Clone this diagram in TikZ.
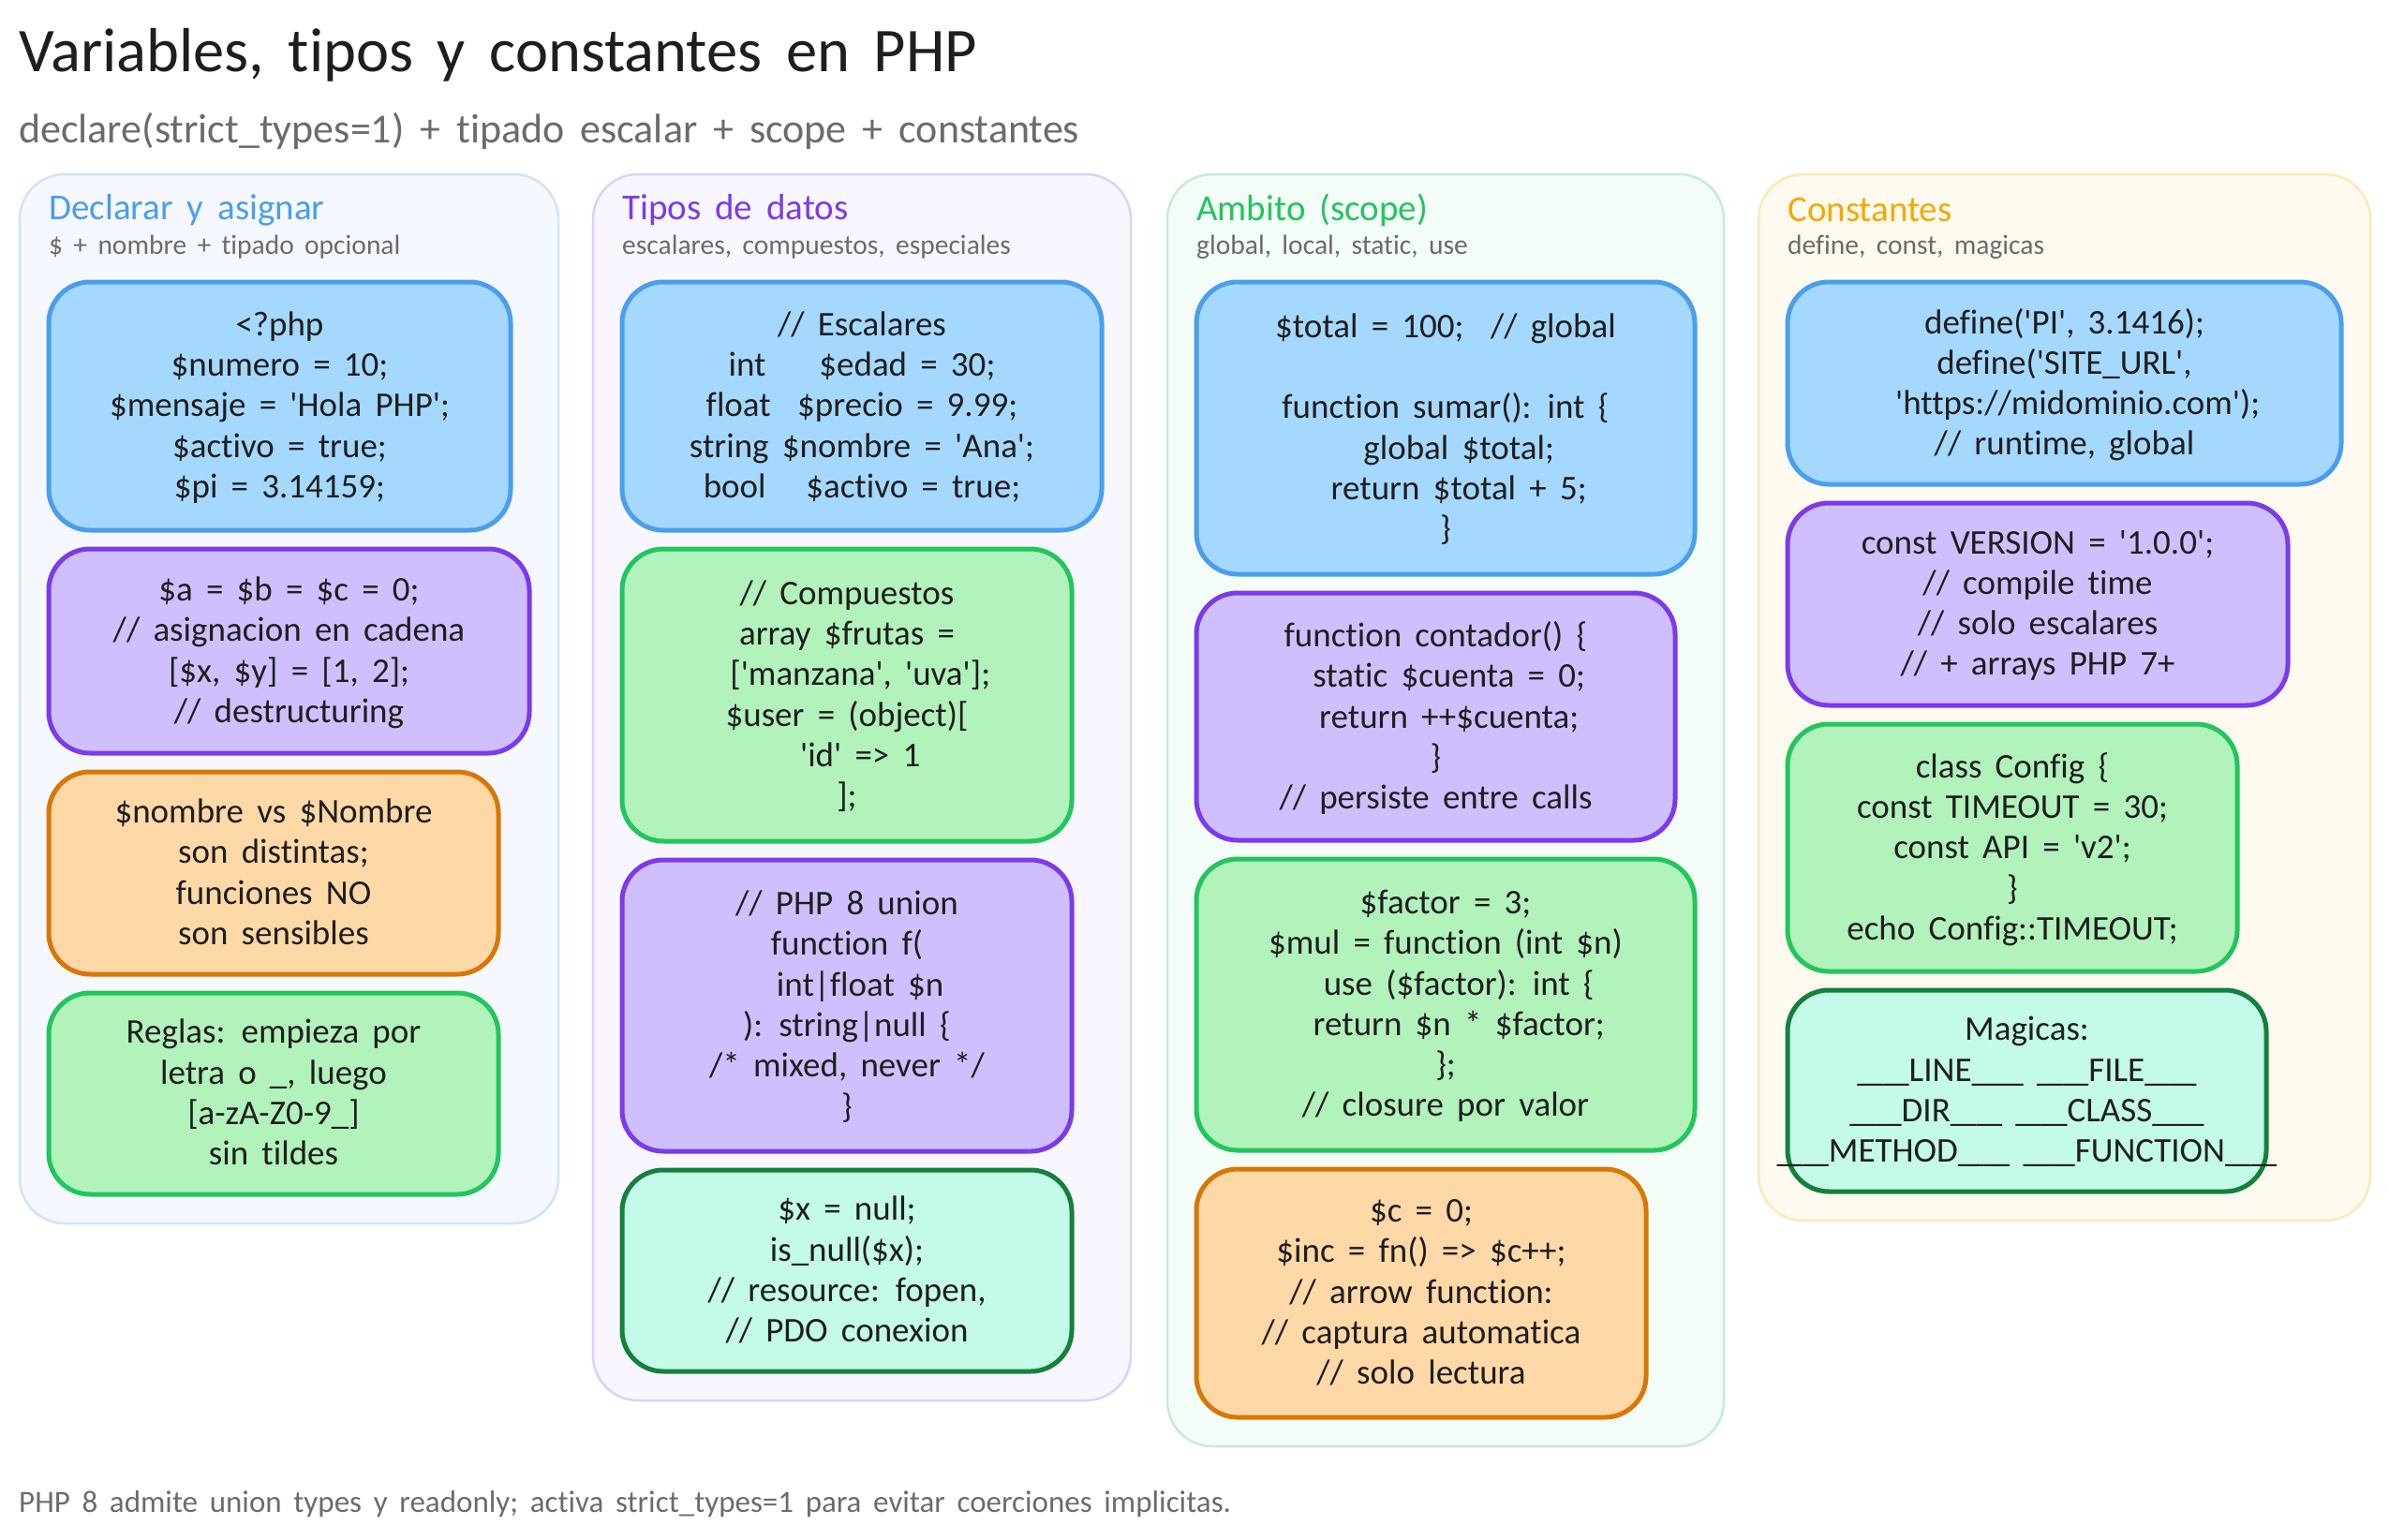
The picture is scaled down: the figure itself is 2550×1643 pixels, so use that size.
\documentclass[tikz,border=0pt]{standalone}
\usepackage{fontspec}
\usepackage{graphicx}
\usetikzlibrary{positioning, fit, backgrounds}

\newfontfamily\sketchfont{Carlito}[WordSpace=1.7, Ligatures=NoCommon]
\newcommand{\sk}[1]{\hspace*{#1\fontdimen2\font}}
\newcommand{\uu}{\scalebox{1.5}[1]{\_\_}}

\definecolor{inkdark}{HTML}{1E1E1E}
\definecolor{inkgray}{HTML}{6B6B6B}
\definecolor{blueline}{HTML}{4A9EED}
\definecolor{bluefill}{HTML}{A5D8FF}
\definecolor{purpleline}{HTML}{7C3AED}
\definecolor{purplefill}{HTML}{D0BFFF}
\definecolor{greenline}{HTML}{22C55E}
\definecolor{greenfill}{HTML}{B2F2BB}
\definecolor{orangeline}{HTML}{D97706}
\definecolor{orangefill}{HTML}{FFD8A8}
\definecolor{tealline}{HTML}{15803D}
\definecolor{tealfill}{HTML}{C3FAE8}
\definecolor{amberhead}{HTML}{F5A800}
\definecolor{declback}{HTML}{F5F8FF}
\definecolor{declrim}{HTML}{CFE4FB}
\definecolor{tipoback}{HTML}{F8F6FF}
\definecolor{tiporim}{HTML}{DDD0FB}
\definecolor{ambback}{HTML}{F3FCF6}
\definecolor{ambrim}{HTML}{C5ECD5}
\definecolor{consback}{HTML}{FFFAEF}
\definecolor{consrim}{HTML}{FDE8B8}

\begin{document}
\begin{tikzpicture}[x=1pt, y=-1pt,
            % Styles
            codebox/.style={rectangle, rounded corners=44pt, line width=5pt, outer sep=0pt, inner sep=0pt, align=center, text=inkdark, text depth=3pt, font=\sketchfont\fontsize{37}{43.3}\selectfont},
            bluebox/.style={codebox, draw=blueline, fill=bluefill},
            purplebox/.style={codebox, draw=purpleline, fill=purplefill},
            greenbox/.style={codebox, draw=greenline, fill=greenfill},
            orangebox/.style={codebox, draw=orangeline, fill=orangefill},
            tealbox/.style={codebox, draw=tealline, fill=tealfill},
            panel/.style={rectangle, rounded corners=48pt, line width=2.5pt, inner sep=31pt, outer sep=0pt},
            paneltitle/.style={anchor=west, inner sep=0pt, font=\sketchfont\fontsize{39}{44}\selectfont},
            panelnote/.style={anchor=west, inner sep=0pt, text=inkgray, font=\sketchfont\fontsize{29.5}{34}\selectfont},
            nextbox/.style={below=20pt of #1.south west, anchor=north west}
        ]
        \useasboundingbox (0,0) rectangle (2550,1643);

        % Heading
        \node [anchor=west, inner sep=0pt, text=inkdark, font=\sketchfont\fontsize{66.5}{74}\selectfont] (title) at (20,59) {Variables, tipos y constantes en PHP};
        \node [anchor=west, inner sep=0pt, text=inkgray, font=\sketchfont\fontsize{44}{50}\selectfont] (subtitle) at (20,140) {declare(strict\_types=1) + tipado escalar + scope + constantes};

        % Declarar
        \coordinate (decltop) at (52,217);
        \node [paneltitle, text=blueline] (declhead) at (52,224) {Declarar y asignar};
        \node [panelnote] (declnote) at (52,264) {\$ + nombre + tipado opcional};
        \node [bluebox, anchor=north west, minimum width=493pt, minimum height=265pt] (declA) at (52,301) {
            <?php\\
            \$numero = 10;\\
            \$mensaje = 'Hola PHP';\\
            \$activo = true;\\
            \$pi = 3.14159;
        };
        \node [purplebox, nextbox=declA, minimum width=513pt, minimum height=218pt] (declB) {
            \$a = \$b = \$c = 0;\\
            // asignacion en cadena\\
            {[}\$x, \$y] = [1, 2];\\
            // destructuring
        };
        \node [orangebox, nextbox=declB, minimum width=480pt, minimum height=216pt] (declC) {
            \$nombre vs \$Nombre\\
            son distintas;\\
            funciones NO\\
            son sensibles
        };
        \node [greenbox, nextbox=declC, minimum width=480pt, minimum height=215pt] (declD) {
            Reglas: empieza por\\
            letra o \_, luego\\
            {[}a-zA-Z0-9\_]\\
            sin tildes
        };

        % Tipos
        \coordinate (tipotop) at (664,217);
        \node [paneltitle, text=purpleline] (tipohead) at (664,224) {Tipos de datos};
        \node [panelnote] (tiponote) at (664,264) {escalares, compuestos, especiales};
        \node [bluebox, anchor=north west, minimum width=512pt, minimum height=265pt] (tipoA) at (664,301) {
            // Escalares\\
            int\sk{4}\$edad = 30;\\
            float\sk{2}\$precio = 9.99;\\
            string \$nombre = 'Ana';\\
            bool\sk{3}\$activo = true;
        };
        \node [greenbox, nextbox=tipoA, minimum width=480pt, minimum height=312pt] (tipoB) {
            // Compuestos\\
            array \$frutas =\\
            \sk{2}['manzana', 'uva'];\\
            \$user = (object)[\\
            \sk{2}'id' => 1\\
            ];
        };
        \node [purplebox, nextbox=tipoB, minimum width=480pt, minimum height=311pt] (tipoC) {
            // PHP 8 union\\
            function f(\\
            \sk{2}int|float \$n\\
            ): string|null \{\\
            /* mixed, never */\\
            \}
        };
        \node [tealbox, nextbox=tipoC, minimum width=480pt, minimum height=215pt] (tipoD) {
            \$x = null;\\
            is\_null(\$x);\\
            // resource: fopen,\\
            // PDO conexion
        };

        % Ambito
        \coordinate (ambtop) at (1277,217);
        \node [paneltitle, text=greenline] (ambhead) at (1277,224) {Ambito (scope)};
        \node [panelnote] (ambnote) at (1277,264) {global, local, static, use};
        \node [bluebox, anchor=north west, minimum width=532pt, minimum height=312pt] (ambA) at (1277,301) {
            \$total = 100;\sk{2}// global\\
            ~\\
            function sumar(): int \{\\
            \sk{2}global \$total;\\
            \sk{2}return \$total + 5;\\
            \}
        };
        \node [purplebox, nextbox=ambA, minimum width=511pt, minimum height=264pt] (ambB) {
            function contador() \{\\
            \sk{2}static \$cuenta = 0;\\
            \sk{2}return ++\$cuenta;\\
            \}\\
            // persiste entre calls
        };
        \node [greenbox, nextbox=ambB, minimum width=532pt, minimum height=311pt] (ambC) {
            \$factor = 3;\\
            \$mul = function (int \$n)\\
            \sk{2}use (\$factor): int \{\\
            \sk{2}return \$n * \$factor;\\
            \};\\
            // closure por valor
        };
        \node [orangebox, nextbox=ambC, minimum width=480pt, minimum height=265pt] (ambD) {
            \$c = 0;\\
            \$inc = fn() => \$c++;\\
            // arrow function:\\
            // captura automatica\\
            // solo lectura
        };

        % Constantes
        \coordinate (constop) at (1908,217);
        \node [paneltitle, text=amberhead] (conshead) at (1908,224) {Constantes};
        \node [panelnote] (consnote) at (1908,264) {define, const, magicas};
        \node [bluebox, anchor=north west, minimum width=591pt, minimum height=216pt] (consA) at (1908,301) {
            define('PI', 3.1416);\\
            define('SITE\_URL',\\
            \sk{2}'https://midominio.com');\\
            // runtime, global
        };
        \node [purplebox, nextbox=consA, minimum width=534pt, minimum height=216pt] (consB) {
            const VERSION = '1.0.0';\\
            // compile time\\
            // solo escalares\\
            // + arrays PHP 7+
        };
        \node [greenbox, nextbox=consB, minimum width=480pt, minimum height=264pt] (consC) {
            class Config \{\\
            const TIMEOUT = 30;\\
            const API = 'v2';\\
            \}\\
            echo Config::TIMEOUT;
        };
        \node [tealbox, nextbox=consC, minimum width=511pt, minimum height=215pt] (consD) {
            Magicas:\\
            \uu LINE\uu{} \uu FILE\uu\\
            \uu DIR\uu{} \uu CLASS\uu\\
            \makebox[0pt]{\uu METHOD\uu{} \uu FUNCTION\uu}
        };

        % Footer
        \node [anchor=west, inner sep=0pt, text=inkgray, font=\sketchfont\fontsize{33}{38}\selectfont] (footer) at (20,1606) {PHP 8 admite union types y readonly; activa strict\_types=1 para evitar coerciones implicitas.};

        % Panels
        \begin{scope}[on background layer]
            \node [panel, draw=declrim, fill=declback, fit=(decltop) (declA) (declB) (declD)] (declpanel) {};
            \node [panel, draw=tiporim, fill=tipoback, fit=(tipotop) (tipoA) (tipoD)] (tipopanel) {};
            \node [panel, draw=ambrim, fill=ambback, fit=(ambtop) (ambA) (ambD)] (ambpanel) {};
            \node [panel, draw=consrim, fill=consback, fit=(constop) (consA) (consD)] (conspanel) {};
        \end{scope}
    \end{tikzpicture}
\end{document}
